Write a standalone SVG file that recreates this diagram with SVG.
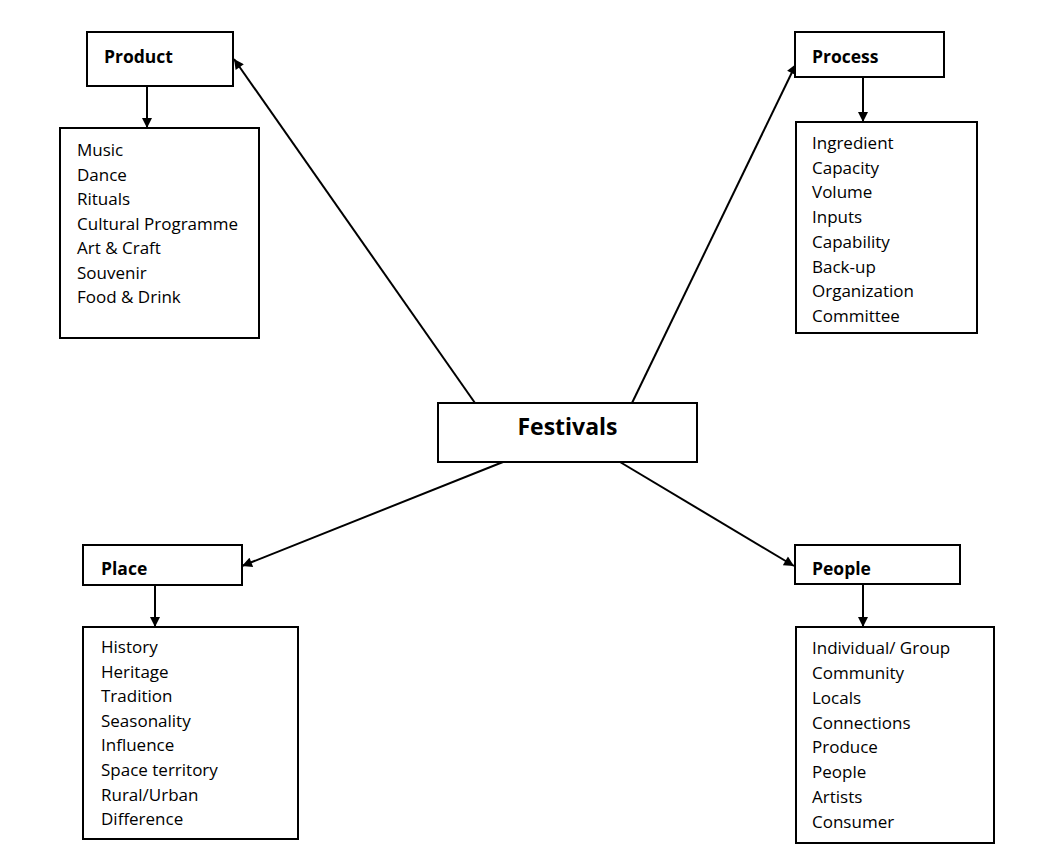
<svg xmlns="http://www.w3.org/2000/svg" width="1046" height="856" viewBox="0 0 1046 856">
<style>
.box{fill:#fff;stroke:#000;stroke-width:2}
.hd{font-family:"Open Sans","Liberation Sans",sans-serif;font-weight:bold;font-size:17.5px;fill:#000}
.li{font-family:"Open Sans","Liberation Sans",sans-serif;font-size:17px;fill:#000}
.cn{stroke:#000;stroke-width:2;fill:none;marker-end:url(#ah)}
</style>
<defs>
<marker id="ah" viewBox="0 0 10 10" refX="10" refY="5" markerWidth="12" markerHeight="10" markerUnits="userSpaceOnUse" orient="auto">
<path d="M0,0 L10,5 L0,10 Z" fill="#000"/>
</marker>
</defs>
<rect width="1046" height="856" fill="#fff"/>
<g id="connectors">
<line class="cn" x1="475" y1="403" x2="234" y2="59"/>
<line class="cn" x1="632" y1="403" x2="796" y2="64"/>
<line class="cn" x1="503" y1="462" x2="242" y2="566"/>
<line class="cn" x1="620" y1="462" x2="794" y2="566"/>
<line class="cn" x1="147" y1="86" x2="147" y2="128"/>
<line class="cn" x1="863" y1="77" x2="863" y2="122"/>
<line class="cn" x1="155" y1="585" x2="155" y2="627"/>
<line class="cn" x1="863" y1="584" x2="863" y2="627"/>
</g>
<g id="festivals">
<rect class="box" x="438" y="403" width="259" height="59"/>
<text x="567.5" y="435" text-anchor="middle" font-family="Open Sans, Liberation Sans, sans-serif" font-weight="bold" font-size="23">Festivals</text>
</g>
<g id="product">
<rect class="box" x="87" y="32" width="146" height="54"/>
<text class="hd" x="104" y="63">Product</text>
</g>
<g id="product-list">
<rect class="box" x="60" y="128" width="199" height="210"/>
<text class="li" x="77" y="156">
<tspan x="77">Music</tspan><tspan x="77" dy="24.5">Dance</tspan><tspan x="77" dy="24.5">Rituals</tspan><tspan x="77" dy="24.5">Cultural Programme</tspan><tspan x="77" dy="24.5">Art &amp; Craft</tspan><tspan x="77" dy="24.5">Souvenir</tspan><tspan x="77" dy="24.5">Food &amp; Drink</tspan>
</text>
</g>
<g id="process">
<rect class="box" x="795" y="32" width="149" height="45"/>
<text class="hd" x="812" y="63">Process</text>
</g>
<g id="process-list">
<rect class="box" x="796" y="122" width="181" height="211"/>
<text class="li" x="812" y="149">
<tspan x="812">Ingredient</tspan><tspan x="812" dy="24.7">Capacity</tspan><tspan x="812" dy="24.7">Volume</tspan><tspan x="812" dy="24.7">Inputs</tspan><tspan x="812" dy="24.7">Capability</tspan><tspan x="812" dy="24.7">Back-up</tspan><tspan x="812" dy="24.7">Organization</tspan><tspan x="812" dy="24.7">Committee</tspan>
</text>
</g>
<g id="place">
<rect class="box" x="83" y="545" width="159" height="40"/>
<text class="hd" x="101" y="575">Place</text>
</g>
<g id="place-list">
<rect class="box" x="83" y="627" width="215" height="212"/>
<text class="li" x="101" y="653">
<tspan x="101">History</tspan><tspan x="101" dy="24.6">Heritage</tspan><tspan x="101" dy="24.6">Tradition</tspan><tspan x="101" dy="24.6">Seasonality</tspan><tspan x="101" dy="24.6">Influence</tspan><tspan x="101" dy="24.6">Space territory</tspan><tspan x="101" dy="24.6">Rural/Urban</tspan><tspan x="101" dy="24.6">Difference</tspan>
</text>
</g>
<g id="people">
<rect class="box" x="795" y="545" width="165" height="39"/>
<text class="hd" x="812" y="575">People</text>
</g>
<g id="people-list">
<rect class="box" x="796" y="627" width="198" height="216"/>
<text class="li" x="812" y="654">
<tspan x="812">Individual/ Group</tspan><tspan x="812" dy="24.85">Community</tspan><tspan x="812" dy="24.85">Locals</tspan><tspan x="812" dy="24.85">Connections</tspan><tspan x="812" dy="24.85">Produce</tspan><tspan x="812" dy="24.85">People</tspan><tspan x="812" dy="24.85">Artists</tspan><tspan x="812" dy="24.85">Consumer</tspan>
</text>
</g>
</svg>
